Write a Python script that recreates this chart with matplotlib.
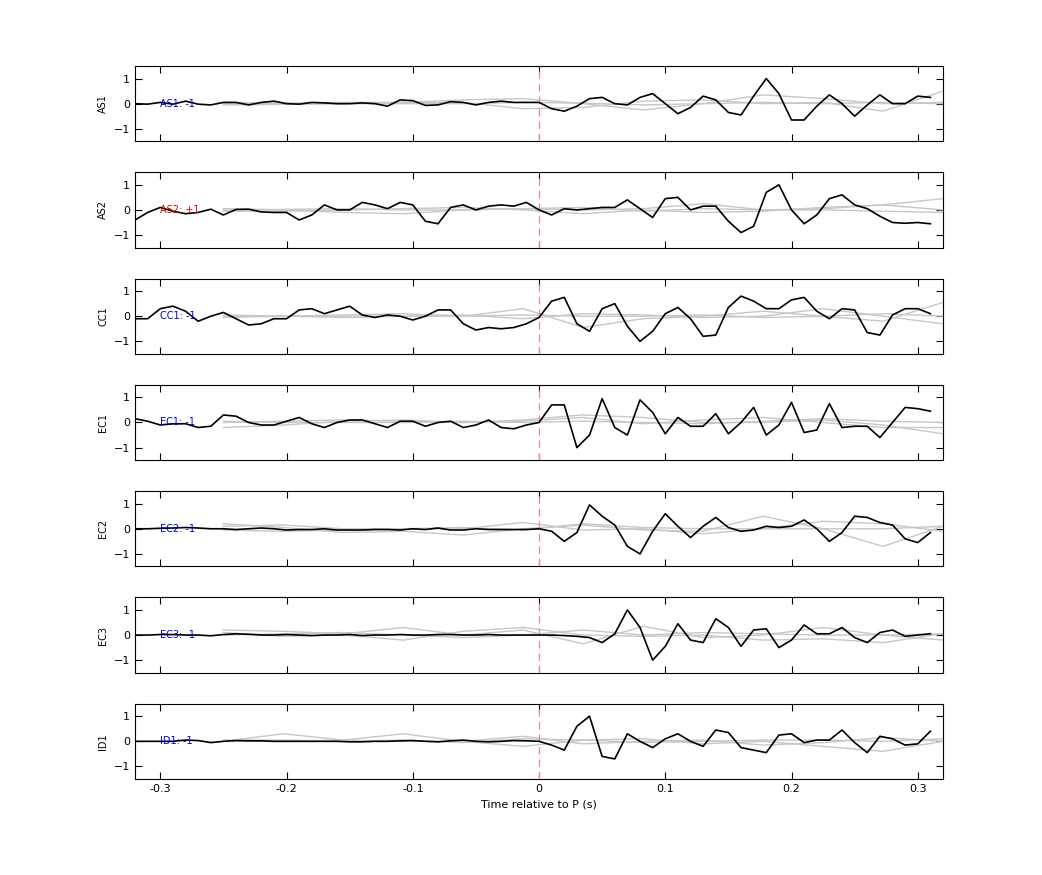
import matplotlib
matplotlib.use("Agg")
import matplotlib.pyplot as plt
import numpy as np

# black trace: one sample every 10 ms, -0.32 .. 0.31 s
t = np.round(np.arange(-0.32, 0.315, 0.01), 2)
# grey reference traces: 13 samples, -0.25 .. 0.32 s
tg = np.linspace(-0.25, 0.32, 13)

stations = ["AS1", "AS2", "CC1", "EC1", "EC2", "EC3", "ID1"]
polarity = ["-1", "+1", "-1", "-1", "-1", "-1", "-1"]

AS1 = [0, -0.02, 0.05, -0.02, 0.1, -0.02, -0.05, 0.05, 0.05, -0.05,
       0.05, 0.1, 0, -0.02, 0.05, 0.03, 0, 0, 0.03, 0,
       -0.1, 0.15, 0.12, -0.07, -0.05, 0.08, 0.05, -0.05, 0.05, 0.1,
       0.05, 0.05,
       0.05, -0.2, -0.3, -0.1, 0.2, 0.25, 0, -0.05, 0.25, 0.4,
       0, -0.4, -0.15, 0.3, 0.15, -0.35, -0.45, 0.3, 1.0, 0.4,
       -0.65, -0.65, -0.1, 0.35, 0, -0.5, -0.05, 0.35, 0, 0,
       0.3, 0.25]
AS2 = [-0.4, -0.1, 0.1, -0.05, -0.15, -0.1, 0.03, -0.2, 0.02, 0.03,
       -0.08, -0.1, -0.1, -0.4, -0.2, 0.2, 0, 0, 0.3, 0.2,
       0.05, 0.3, 0.2, -0.45, -0.55, 0.1, 0.2, 0, 0.15, 0.2,
       0.15, 0.3,
       0, -0.2, 0.05, 0, 0.05, 0.1, 0.1, 0.4, 0.05, -0.3,
       0.45, 0.5, 0, 0.15, 0.15, -0.45, -0.9, -0.65, 0.7, 1.0,
       0, -0.55, -0.2, 0.45, 0.6, 0.2, 0.05, -0.25, -0.5, -0.53,
       -0.5, -0.55]
CC1 = [-0.1, -0.1, 0.3, 0.4, 0.2, -0.2, 0, 0.15, -0.1, -0.35,
       -0.3, -0.1, -0.1, 0.25, 0.3, 0.1, 0.25, 0.4, 0.05, -0.05,
       0.05, 0, -0.15, 0, 0.25, 0.25, -0.3, -0.55, -0.45, -0.5,
       -0.45, -0.3,
       -0.05, 0.6, 0.75, -0.3, -0.6, 0.3, 0.5, -0.4, -1.0, -0.6,
       0.1, 0.35, -0.1, -0.8, -0.75, 0.35, 0.8, 0.6, 0.3, 0.3,
       0.65, 0.75, 0.2, -0.1, 0.3, 0.25, -0.65, -0.75, 0.05, 0.3,
       0.3, 0.1]
EC1 = [0.15, 0.05, -0.1, -0.05, -0.05, -0.2, -0.15, 0.3, 0.25, 0,
       -0.1, -0.1, 0.05, 0.2, -0.05, -0.2, 0, 0.1, 0.1, -0.05,
       -0.2, 0.05, 0.05, -0.15, 0, 0.05, -0.2, -0.1, 0.1, -0.2,
       -0.25, -0.1,
       0, 0.7, 0.7, -1.0, -0.5, 0.95, -0.2, -0.5, 0.9, 0.4,
       -0.45, 0.2, -0.15, -0.15, 0.35, -0.45, 0, 0.6, -0.5, -0.1,
       0.8, -0.4, -0.3, 0.75, -0.2, -0.15, -0.15, -0.6, 0, 0.6,
       0.55, 0.45]
EC2 = [0, 0, 0.02, 0.03, 0.05, 0.03, 0, 0, -0.03, 0,
       0.03, 0, -0.05, -0.03, -0.03, 0, -0.05, -0.05, -0.05, -0.03,
       -0.03, -0.05, 0, -0.03, 0.03, -0.05, -0.05, 0, -0.03, -0.03,
       -0.03, -0.03,
       0, -0.1, -0.5, -0.15, 0.95, 0.5, 0.15, -0.7, -1.0, -0.1,
       0.6, 0.1, -0.35, 0.1, 0.45, 0.05, -0.1, -0.05, 0.1, 0.05,
       0.1, 0.35, 0, -0.5, -0.15, 0.5, 0.45, 0.25, 0.15, -0.4,
       -0.55, -0.15]
EC3 = [0, 0, 0.02, 0.02, 0, 0, -0.03, 0.02, 0.05, 0.03,
       0, 0, 0.02, 0, -0.02, 0, 0, 0.02, -0.02, 0,
       0, 0.02, 0, 0, 0.02, 0.02, 0, 0, 0.02, 0,
       0, 0,
       0, 0, -0.02, -0.05, -0.1, -0.3, 0.05, 1.0, 0.3, -1.0,
       -0.45, 0.45, -0.2, -0.3, 0.65, 0.3, -0.45, 0.2, 0.25, -0.5,
       -0.2, 0.4, 0.05, 0.05, 0.3, -0.1, -0.3, 0.1, 0.2, -0.05,
       0, 0.05]
ID1 = [0, 0, 0, 0, 0.05, 0.03, -0.05, 0, 0.03, 0.02,
       0.02, 0, 0, 0, 0, 0, 0, -0.02, -0.02, 0,
       0, 0.02, 0.03, 0, -0.02, 0.02, 0.05, 0, -0.02, 0,
       0.03, 0.02,
       0, -0.15, -0.35, 0.6, 1.0, -0.6, -0.7, 0.3, 0, -0.25,
       0.1, 0.3, 0, -0.2, 0.45, 0.35, -0.25, -0.35, -0.45, 0.25,
       0.3, -0.05, 0.05, 0.05, 0.45, -0.05, -0.45, 0.2, 0.1, -0.15,
       -0.1, 0.4]
traces = [AS1, AS2, CC1, EC1, EC2, EC3, ID1]

grey = [
    [[0.05, 0.0, 0.0, 0.05, 0.15, 0.2, 0.0, -0.25, 0.0, 0.35, 0.2, 0.0, 0.05],
     [0.0, 0.02, 0.05, 0.05, 0.05, -0.2, -0.15, 0.1, 0.15, 0.0, 0.05, -0.3, 0.5],
     [-0.05, -0.03, 0.0, 0.0, 0.0, 0.05, 0.02, -0.05, 0.0, 0.05, 0.0, 0.05, 0.0]],
    [[0.05, 0.0, -0.1, -0.15, 0.0, 0.05, 0.0, 0.05, 0.25, 0.0, 0.05, 0.2, 0.45],
     [-0.05, -0.05, 0.0, 0.05, 0.1, 0.0, -0.15, 0.0, -0.1, -0.05, 0.1, 0.2, 0.0],
     [0.0, 0.02, 0.05, 0.0, 0.0, 0.05, 0.1, -0.05, 0.05, 0.0, 0.0, -0.05, -0.1]],
    [[0.0, 0.0, 0.05, 0.1, 0.0, 0.3, -0.45, -0.1, 0.0, 0.2, 0.0, -0.2, 0.55],
     [-0.05, 0.0, 0.0, 0.0, 0.05, -0.1, 0.1, 0.05, -0.05, 0.0, 0.3, 0.0, -0.3],
     [0.05, 0.0, -0.05, 0.0, 0.0, 0.05, 0.0, 0.0, 0.05, -0.05, 0.0, 0.1, 0.0]],
    [[-0.2, -0.1, 0.05, 0.1, 0.0, 0.1, 0.3, 0.2, 0.0, 0.0, 0.1, -0.1, -0.45],
     [0.0, 0.05, 0.1, 0.05, 0.0, 0.05, 0.2, -0.05, 0.1, 0.2, 0.0, -0.2, -0.2],
     [0.05, 0.0, 0.0, 0.0, 0.05, 0.0, 0.05, 0.0, -0.05, 0.05, 0.15, 0.05, 0.0]],
    [[0.2, 0.05, -0.15, -0.1, -0.25, 0.0, 0.15, -0.05, -0.1, 0.5, 0.0, -0.7, 0.1],
     [-0.05, -0.1, -0.05, 0.0, 0.0, 0.25, -0.05, 0.0, -0.2, 0.0, 0.3, 0.2, -0.1],
     [0.1, 0.15, 0.0, 0.0, 0.05, -0.05, 0.2, 0.05, 0.0, 0.0, 0.0, 0.0, 0.1]],
    [[0.2, 0.15, 0.05, 0.3, 0.0, 0.2, -0.35, 0.35, -0.1, 0.0, 0.3, 0.0, -0.2],
     [0.1, -0.05, 0.0, -0.2, 0.15, 0.3, 0.0, -0.05, 0.0, -0.2, -0.15, -0.3, 0.05],
     [0.0, 0.05, 0.1, 0.0, -0.1, 0.0, 0.2, 0.0, 0.1, 0.05, 0.0, 0.0, 0.05]],
    [[0.0, 0.3, 0.05, 0.3, 0.0, 0.2, -0.1, 0.0, 0.05, -0.15, -0.05, 0.15, 0.0],
     [0.0, 0.0, 0.05, 0.0, 0.0, -0.2, 0.05, 0.1, -0.1, 0.0, -0.2, -0.4, 0.0],
     [0.05, 0.05, 0.0, 0.05, -0.05, 0.1, 0.05, -0.05, 0.0, 0.05, 0.05, 0.0, 0.1]],
]

fig = plt.figure(figsize=(10.42, 8.75), dpi=100)
gs = fig.add_gridspec(len(stations), 1, left=0.1296, right=0.905,
                      top=0.9246, bottom=0.1097, hspace=0.41)
for i, (name, pol, y) in enumerate(zip(stations, polarity, traces)):
    ax = fig.add_subplot(gs[i])
    for g in grey[i]:
        ax.plot(tg, g, color="0.78", lw=1)
    ax.axvline(0, color="#ee8888", ls=(0, (6, 4)), lw=0.9)
    ax.plot(t, y, color="black", lw=1.2)
    col = "#cc0000" if pol == "+1" else "#0000cc"
    ax.text(-0.30, 0, f"{name}: {pol}", color=col, fontsize=7, va="center")
    ax.set_xlim(-0.32, 0.32)
    ax.set_ylim(-1.5, 1.5)
    ax.set_yticks([-1, 0, 1])
    ax.set_xticks([-0.3, -0.2, -0.1, 0, 0.1, 0.2, 0.3])
    ax.tick_params(direction="in", top=True, right=True, labelsize=8, length=5)
    ax.set_ylabel(name, fontsize=7)
    if i < len(stations) - 1:
        ax.set_xticklabels([])
    else:
        ax.set_xticklabels(["-0.3", "-0.2", "-0.1", "0", "0.1", "0.2", "0.3"])
        ax.set_xlabel("Time relative to P (s)", fontsize=8)

fig.savefig("out.png")
